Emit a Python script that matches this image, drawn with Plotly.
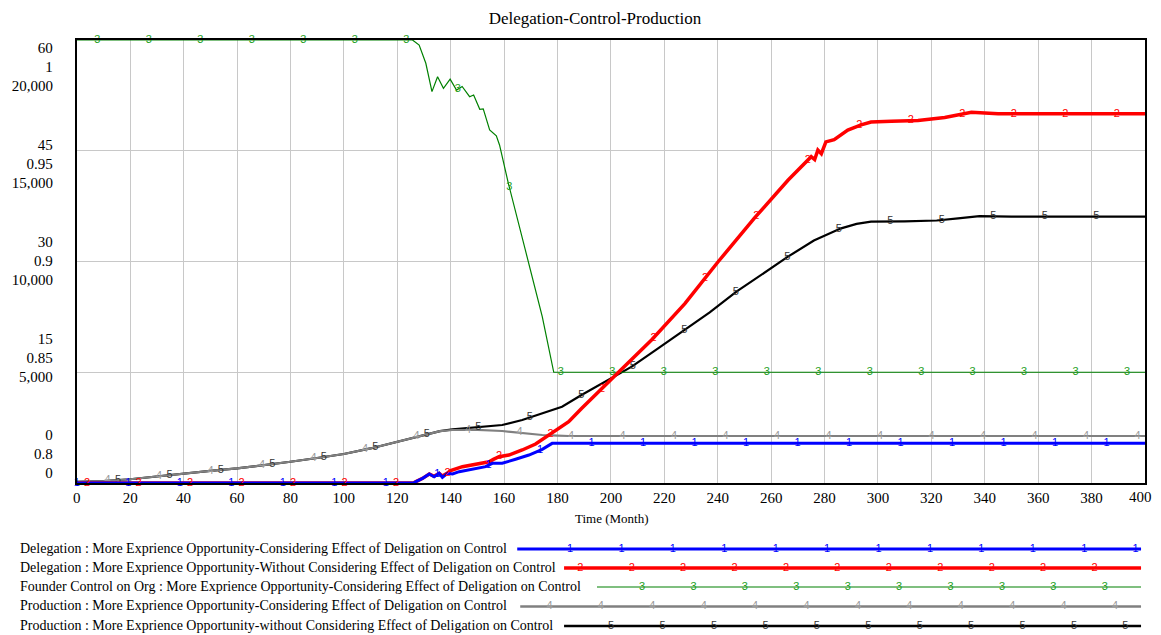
import numpy as np
import plotly.graph_objects as go

# page body has an 8px default margin -> figure is offset by 8px; keep page width = 1161
OFF = 8
W, H = 1161 - 2 * OFF, 635 - OFF

# ---------------- data ----------------
t_blue = [0, 126, 127, 129.5, 132, 133.8, 135.7, 136.9, 138.8, 140.7, 143.2, 146.3, 149.4,
          153.1, 155.6, 159.3, 164.3, 169.3, 174.3, 178, 400]
v_blue = [0, 0, 0.18, 0.63, 1.22, 0.85, 1.31, 0.77, 1.31, 1.22, 1.53, 1.76, 1.99,
          2.21, 2.67, 2.67, 3.21, 3.79, 4.56, 5.37, 5.37]

t_red = [0, 126, 127, 129.5, 132, 133.8, 135.7, 136.9, 138.8, 140, 144.4, 149.4, 154.4, 156,
         158.1, 161.8, 166.8, 171.8, 176.8, 184.2, 189, 196, 203.7, 215.3, 227.7, 240, 253.8,
         266.3, 275, 276.3, 277.5, 278.8, 280.5, 283.6, 288.7, 293.7, 297.4, 305, 315, 325,
         335, 345, 400]
v_red = [0, 0, 0.18, 0.63, 1.22, 0.9, 1.31, 0.95, 1.35, 1.67, 2.21, 2.57, 2.88, 3.2,
         3.56, 3.79, 4.47, 5.28, 6.5, 8.3, 10.1, 12.5, 15.3, 19.4, 24.3, 29.9, 35.9,
         41.0, 44.2, 43.8, 45.1, 44.6, 46.2, 46.5, 47.8, 48.5, 48.9, 49.0, 49.1, 49.5,
         50.2, 50.0, 50.0]

t_green = [0, 125.7, 128.2, 130.7, 133, 135.1, 137.3, 139.8, 142.2, 144.3, 147.1, 148.6,
           150.9, 152.2, 154.6, 157.1, 158.3, 161.6, 168, 174.3, 178.6, 400]
v_green = [1, 1, 0.9977, 0.9895, 0.9767, 0.9834, 0.9782, 0.9823, 0.9774, 0.9790, 0.9744,
           0.9752, 0.9687, 0.9689, 0.9594, 0.9567, 0.9526, 0.9353, 0.905, 0.8751, 0.85, 0.85]

t_gray = [0, 10, 20, 30, 40, 50, 60, 70, 80, 90, 100, 110, 120, 127, 132, 136, 140.7, 150,
          159.3, 166, 174.3, 180, 184.2, 400]
v_gray = [50, 90, 170, 300, 440, 550, 660, 800, 960, 1130, 1310, 1560, 1870, 2090, 2243,
          2340, 2393, 2400, 2348, 2270, 2167, 2135, 2122, 2122]

t_black = [0, 10, 20, 30, 40, 50, 60, 70, 80, 90, 100, 110, 120, 127, 132, 136, 140.7, 146,
           153.1, 159.3, 166.8, 170.5, 174.3, 181.7, 189, 198, 207.8, 217, 227.7, 237, 247,
           257, 266.3, 276, 286.2, 292, 297.4, 310, 322, 330, 338, 350, 400]
v_black = [50, 90, 170, 300, 440, 550, 660, 800, 960, 1130, 1310, 1560, 1870, 2090, 2243,
           2345, 2424, 2470, 2542, 2618, 2844, 2993, 3146, 3445, 3973, 4600, 5251, 6020,
           6907, 7700, 8637, 9450, 10217, 10950, 11497, 11700, 11797, 11810, 11850, 11950,
           12050, 12030, 12030]

series_names = [
    "Delegation : More Exprience Opportunity-Considering Effect of Deligation on Control",
    "Delegation : More Exprience Opportunity-Without Considering Effect of Deligation on Control",
    "Founder Control on Org : More Exprience Opportunity-Considering Effect of Deligation on Control",
    "Production : More Exprience Opportunity-Considering Effect of Deligation on Control",
    "Production : More Exprience Opportunity-without Considering Effect of Deligation on Control",
]
series_marks = ["1", "2", "3", "4", "5"]

x_ticks = list(range(0, 401, 20))
x_ticktext = [str(v) for v in x_ticks]
y_labels_deleg = ["60", "45", "30", "15", "0"]
y_labels_control = ["1", "0.95", "0.9", "0.85", "0.8"]
y_labels_prod = ["20,000", "15,000", "10,000", "5,000", "0"]

# ---------------- styles ----------------
serif = "Liberation Serif, Times New Roman, serif"
sans = "Liberation Sans, Arial, sans-serif"
line_col = ["#0000ff", "#ff0000", "#008000", "#808080", "#000000"]
mark_col = ["#0000ff", "#ff0000", "#22a022", "#999999", "#333333"]
line_w = [3, 3.5, 1.2, 2.2, 2.2]
axes_of = ["y3", "y3", "y2", "y", "y"]


def px(v):
    return v - OFF


x0p, x1p, y0p, y1p = px(73), px(1145), px(40), px(483)
SP = 19.28  # marker spacing (months)

series = [(t_blue, v_blue), (t_red, v_red), (t_green, v_green), (t_gray, v_gray), (t_black, v_black)]

fig = go.Figure()

# lines
for i in [4, 3, 2, 1, 0]:
    t, v = series[i]
    fig.add_trace(go.Scatter(x=t, y=v, mode="lines", yaxis=axes_of[i],
                             line=dict(color=line_col[i], width=line_w[i]),
                             showlegend=False, hoverinfo="skip"))

# number markers along lines
for i in range(5):
    t, v = series[i]
    mx = np.arange(i * SP / 5, 400.01, SP)
    my = np.interp(mx, t, v)
    fig.add_trace(go.Scatter(x=mx, y=my, mode="text", yaxis=axes_of[i],
                             text=[series_marks[i]] * len(mx),
                             textposition="middle center", cliponaxis=False,
                             textfont=dict(family=sans, size=11, color=mark_col[i]),
                             showlegend=False, hoverinfo="skip"))

# ---------------- pixel overlay (labels, legend) ----------------
grp_c = [68.3 + j * 96.85 for j in range(5)]
lab_x, lab_y, lab_t = [], [], []
for j in range(5):
    for k, arr in enumerate([y_labels_deleg, y_labels_control, y_labels_prod]):
        lab_x.append(px(49))
        lab_y.append(px(grp_c[j] + (k - 1) * 19))
        lab_t.append(arr[j])
fig.add_trace(go.Scatter(x=lab_x, y=lab_y, text=lab_t, mode="text", xaxis="x2", yaxis="y4",
                         textposition="middle left", cliponaxis=False,
                         textfont=dict(family=serif, size=15, color="black"),
                         showlegend=False, hoverinfo="skip"))

# legend
leg_y = [549, 568, 587, 606.5, 626]
leg_start = [515, 562, 595, 518, 562]
leg_end = 1141
leg_w = [3, 3.5, 1.2, 2.5, 2.5]
fig.add_trace(go.Scatter(x=[px(16)] * 5, y=[px(v) for v in leg_y], text=series_names,
                         mode="text", xaxis="x2", yaxis="y4", textposition="middle right",
                         cliponaxis=False,
                         textfont=dict(family=serif, size=14, color="black"),
                         showlegend=False, hoverinfo="skip"))
for i in range(5):
    fig.add_trace(go.Scatter(x=[px(leg_start[i]), px(leg_end)], y=[px(leg_y[i])] * 2,
                             mode="lines", xaxis="x2", yaxis="y4",
                             line=dict(color=line_col[i], width=leg_w[i]),
                             showlegend=False, hoverinfo="skip"))
    mxs = [568 + i * 10.32 + k * 51.6 for k in range(-1, 12)]
    mxs = [px(m) for m in mxs if leg_start[i] + 6 <= m <= leg_end]
    fig.add_trace(go.Scatter(x=mxs, y=[px(leg_y[i])] * len(mxs), mode="text",
                             text=[series_marks[i]] * len(mxs), xaxis="x2", yaxis="y4",
                             textposition="middle center", cliponaxis=False,
                             textfont=dict(family=sans, size=11, color=mark_col[i]),
                             showlegend=False, hoverinfo="skip"))

fig.update_layout(
    width=W, height=H,
    margin=dict(l=0, r=0, t=0, b=0),
    paper_bgcolor="white", plot_bgcolor="rgba(0,0,0,0)",
    showlegend=False,
    title=dict(text="Delegation-Control-Production", x=px(593) / W, y=1 - px(18) / H,
               xref="paper", yref="paper", xanchor="center", yanchor="middle",
               font=dict(family=serif, size=17, color="black")),
    xaxis=dict(domain=[x0p / W, x1p / W], range=[0, 400], tickvals=x_ticks[:-1],
               ticktext=x_ticktext[:-1], showgrid=True, gridcolor="#c8c8c8", gridwidth=1,
               zeroline=False, showline=True, mirror=True, linecolor="black", linewidth=2,
               ticks="", tickfont=dict(family=serif, size=15, color="black"), anchor="y"),
    yaxis=dict(domain=[1 - y1p / H, 1 - y0p / H], range=[0, 20000], dtick=5000,
               showgrid=True, gridcolor="#c8c8c8", gridwidth=1, zeroline=False,
               showline=True, mirror=True, linecolor="black", linewidth=2,
               showticklabels=False, ticks="", anchor="x"),
    yaxis2=dict(overlaying="y", range=[0.8, 1], visible=False),
    yaxis3=dict(overlaying="y", range=[0, 60], visible=False),
    xaxis2=dict(domain=[0, 1], range=[0, W], visible=False, anchor="y4", fixedrange=True),
    yaxis4=dict(domain=[0, 1], range=[H, 0], visible=False, anchor="x2", fixedrange=True),
    annotations=[
        dict(text="Time (Month)", x=px(610) / W, y=1 - px(518) / H, xref="paper",
             yref="paper", showarrow=False, xanchor="center", yanchor="middle",
             font=dict(family=serif, size=13, color="black")),
        # last time tick label, kept inside the page
        dict(text=x_ticktext[-1], x=x_ticks[-1], xref="x", y=1 - px(496.5) / H,
             yref="paper", showarrow=False, xanchor="center", yanchor="middle",
             xshift=-5, font=dict(family=serif, size=15, color="black")),
    ],
)

fig.write_html("out.html")
